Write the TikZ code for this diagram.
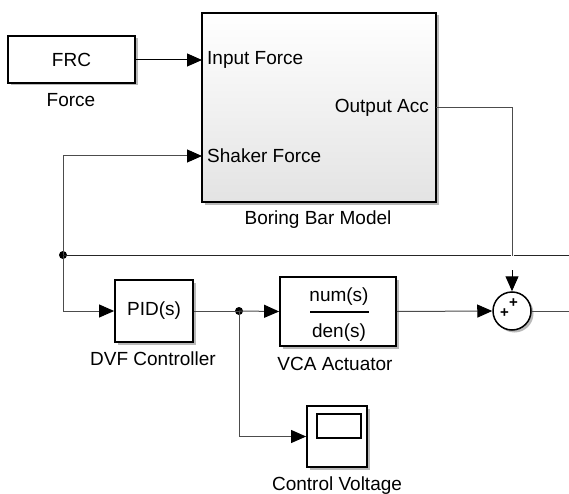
\documentclass[tikz,border=0pt]{standalone}
\usepackage{fontspec}
\setmainfont{Liberation Sans}
\usetikzlibrary{arrows.meta,shadows}
\begin{document}
\begin{tikzpicture}[x=1pt,y=-1pt,
  every node/.style={font=\fontsize{19}{21}\selectfont, inner sep=0pt},
  blk/.style={draw=black, line width=1.8pt, fill=white, drop shadow={shadow xshift=2.5pt, shadow yshift=-2.5pt, fill=gray!55, opacity=1}},
  conn/.style={line width=1pt, draw=black!70},
  arr/.style={conn, -{Triangle[length=15pt,width=13pt,color=black,fill=black]}},
  jdot/.style={circle, fill=black, minimum size=8pt, inner sep=0pt},
  lbl/.style={anchor=center}]
\useasboundingbox (0,0) rectangle (569,494);
% blocks
\node[blk, minimum width=127pt, minimum height=47pt] (frc) at (71.5,59.5) {FRC};
\node[lbl] (frclbl) at (71,100) {Force};
\node[draw=black, line width=1.8pt, top color=white, bottom color=gray!22, drop shadow={shadow xshift=2.5pt, shadow yshift=-2.5pt, fill=gray!55, opacity=1}, minimum width=234pt, minimum height=189pt] (bbm) at (319,107.5) {};
\node[anchor=west] (inlbl) at (207,60) {Input Force};
\node[anchor=east] (outlbl) at (429,108) {Output Acc};
\node[anchor=west] (shlbl) at (207,156) {Shaker Force};
\node[lbl] (bbmlbl) at (318,220) {Boring Bar Model};
\node[blk, minimum width=78pt, minimum height=62pt] (pid) at (154,311) {PID(s)};
\node[lbl] (pidlbl) at (153,359) {DVF Controller};
\node[blk, minimum width=116pt, minimum height=69pt] (vca) at (338,311.5) {};
\node (num) at (339,297) {num(s)};
\node (den) at (339,333) {den(s)};
\draw[line width=1.8pt] (310,312) -- (369,312);
\node[lbl] (vcalbl) at (335,364) {VCA Actuator};
\node[blk, circle, line width=1.5pt, minimum size=38pt] (sum) at (512,311) {};
\node[font=\fontsize{15}{15}\selectfont\bfseries] (p1) at (504.5,313) {+};
\node[font=\fontsize{15}{15}\selectfont\bfseries] (p2) at (513.5,303) {+};
\node[blk, minimum width=60pt, minimum height=61pt] (scope) at (337,436.5) {};
\draw[line width=1.8pt] (317,414) rectangle (361,438);
\node[lbl] (scopelbl) at (337,486) {Control Voltage};
% coordinates
\coordinate (in1) at (202,60);
\coordinate (in2) at (202,156);
\coordinate (out) at (436,108);
\node[jdot] (j1) at (63,255) {};
\node[jdot] (j2) at (239,311) {};
\coordinate (fbend) at (569,255);
\coordinate (sumout) at (569,311);
\coordinate (vtop) at (512,256);
\coordinate (vbot) at (512,270);
% connectors
\draw[arr, draw=black] (frc.east |- in1) -- (in1);
\draw[arr] (j1.center) |- (in2);
\draw[arr] (j1.center) |- (pid.west);
\draw[conn, draw=black!85] (j1.center) -- (510.5,255);
\draw[conn, draw=black!85] (513.5,255) -- (fbend);
\draw[conn] (pid.east) -- (j2.center);
\draw[arr] (j2.center) -- (vca.west);
\draw[arr] (j2.center) |- (scope.west);
\draw[arr] (vca.east) -- (sum.west);
\draw[conn] (out) -| (vtop);
\draw[arr, draw=black] (vbot) -- (sum.north);
\draw[conn] (sum.east) -- (sumout);
\end{tikzpicture}
\end{document}
